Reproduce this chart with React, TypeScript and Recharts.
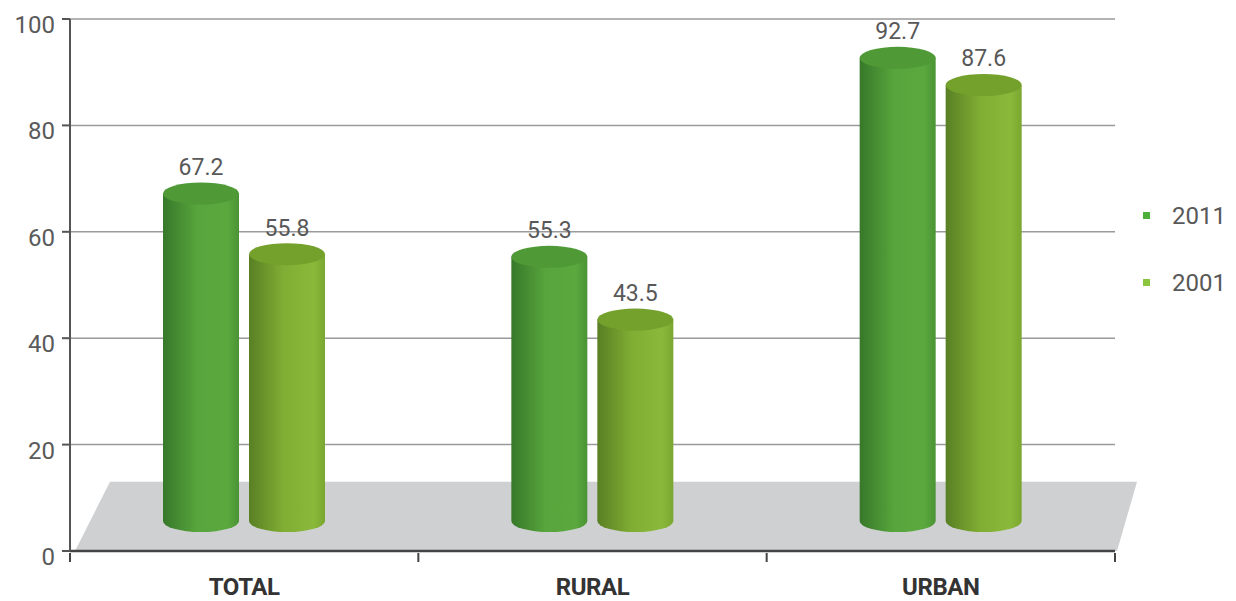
import React from 'react';
import {
  BarChart,
  Bar,
  XAxis,
  YAxis,
  CartesianGrid,
  Legend,
  LabelList,
  ReferenceArea,
} from 'recharts';

const categories = ['TOTAL', 'RURAL', 'URBAN'];
const series2011 = [67.2, 55.3, 92.7];
const series2001 = [55.8, 43.5, 87.6];
const yTicks = [0, 20, 40, 60, 80, 100];
const floorTop = 13;
const legendOrder = ['y2011', 'y2001'];

const chartData = categories.map((name, i) => ({
  name,
  y2011: series2011[i],
  y2001: series2001[i],
}));

const FONT = 'Roboto, "Open Sans", sans-serif';

function Cylinder(props: any) {
  const { x, y, width, height, gradId, topFill } = props;
  if (width == null || height == null) return null;
  const rx = width / 2;
  const ry = 11;
  const cx = x + rx;
  const by = y + height - 30;
  const d = `M${x},${y} L${x},${by} A${rx},${ry} 0 0 0 ${x + width},${by} L${x + width},${y} Z`;
  return (
    <g>
      <path d={d} fill={`url(#${gradId})`} />
      <ellipse cx={cx} cy={y} rx={rx} ry={ry} fill={topFill} />
    </g>
  );
}

function ValueLabel(props: any) {
  const { x, y, width, value } = props;
  return (
    <text
      x={x + width / 2}
      y={y - 26}
      textAnchor="middle"
      dominantBaseline="central"
      fontFamily={FONT}
      fontSize={23}
      fill="#585858"
    >
      {value}
    </text>
  );
}

function Floor(props: any) {
  const { x, y, width, height } = props;
  const pts = [
    [x + 5, y + height],
    [x + 40, y],
    [x + width + 22, y],
    [x + width + 2, y + height],
  ]
    .map((p) => p.join(','))
    .join(' ');
  return <polygon points={pts} fill="#cfd0d2" />;
}

function YTick(props: any) {
  const { x, y, payload } = props;
  return (
    <text
      x={x}
      y={y + 6}
      textAnchor="end"
      dominantBaseline="central"
      fontFamily={FONT}
      fontSize={24}
      fill="#5a5a5a"
    >
      {payload.value}
    </text>
  );
}

// category label plus tick marks on the band edges
function XTick(props: any) {
  const { x, y, payload, index, visibleTicksCount } = props;
  const half = payload && payload.offset ? payload.offset : 0;
  const isLast = index === visibleTicksCount - 1;
  return (
    <g>
      {half > 0 && (
        <line x1={x - half} y1={y} x2={x - half} y2={y + 9} stroke="#444" strokeWidth={2} />
      )}
      {half > 0 && isLast && (
        <line x1={x + half} y1={y} x2={x + half} y2={y + 9} stroke="#444" strokeWidth={2} />
      )}
      <text
        x={x}
        y={y + 34}
        textAnchor="middle"
        dominantBaseline="central"
        fontFamily={FONT}
        fontWeight="bold"
        fontSize={24}
        letterSpacing={-0.4}
        fill="#333"
      >
        {payload.value}
      </text>
    </g>
  );
}

const legendColors: Record<string, string> = {
  y2011: '#4caf3a',
  y2001: '#8cc63f',
};

function LegendContent(props: any) {
  const items = [...(props.payload || [])].sort(
    (a: any, b: any) => legendOrder.indexOf(a.dataKey) - legendOrder.indexOf(b.dataKey)
  );
  return (
    <div style={{ fontFamily: FONT }}>
      {items.map((item: any) => (
        <div
          key={item.value}
          style={{ display: 'flex', alignItems: 'center', height: 67 }}
        >
          <span
            style={{
              width: 7,
              height: 7,
              background: legendColors[item.dataKey],
              marginRight: 22,
            }}
          />
          <span style={{ fontSize: 24, color: '#585858' }}>{item.value}</span>
        </div>
      ))}
    </div>
  );
}

export default function App() {
  return (
    <div style={{ position: 'absolute', left: 0, top: 0, background: '#fff' }}>
      <BarChart
        width={1236}
        height={601}
        data={chartData}
        margin={{ top: 19, right: 121, left: 0, bottom: 0 }}
        barSize={76}
        barGap={10}
      >
        <defs>
          <linearGradient id="g2011" x1="0" y1="0" x2="1" y2="0">
            <stop offset="0%" stopColor="#37782a" />
            <stop offset="45%" stopColor="#57a53c" />
            <stop offset="85%" stopColor="#5aa83e" />
            <stop offset="100%" stopColor="#4a9434" />
          </linearGradient>
          <linearGradient id="g2001" x1="0" y1="0" x2="1" y2="0">
            <stop offset="0%" stopColor="#597f24" />
            <stop offset="45%" stopColor="#80ad33" />
            <stop offset="85%" stopColor="#8ab93a" />
            <stop offset="100%" stopColor="#7aa630" />
          </linearGradient>
        </defs>
        <CartesianGrid vertical={false} stroke="#9a9a9a" strokeWidth={1.5} />
        <ReferenceArea
          y1={0}
          y2={floorTop}
          shape={<Floor />}
          ifOverflow="visible"
        />
        <XAxis
          dataKey="name"
          height={50}
          axisLine={{ stroke: '#444', strokeWidth: 2.5 }}
          tickLine={false}
          tickSize={0}
          tick={<XTick />}
          interval={0}
        />
        <YAxis
          width={70}
          domain={[0, 100]}
          ticks={yTicks}
          axisLine={{ stroke: '#555', strokeWidth: 2 }}
          tickLine={{ stroke: '#555', strokeWidth: 2 }}
          tickSize={8}
          tickMargin={7}
          tick={<YTick />}
        />
        <Legend
          layout="vertical"
          align="center"
          verticalAlign="middle"
          wrapperStyle={{ left: 1143, top: 182, width: 93 }}
          content={<LegendContent />}
        />
        <Bar
          dataKey="y2011"
          name="2011"
          fill="#4caf3a"
          isAnimationActive={false}
          shape={<Cylinder gradId="g2011" topFill="#4f9a36" />}
        >
          <LabelList dataKey="y2011" content={<ValueLabel />} />
        </Bar>
        <Bar
          dataKey="y2001"
          name="2001"
          fill="#8cc63f"
          isAnimationActive={false}
          shape={<Cylinder gradId="g2001" topFill="#74a02c" />}
        >
          <LabelList dataKey="y2001" content={<ValueLabel />} />
        </Bar>
      </BarChart>
    </div>
  );
}
